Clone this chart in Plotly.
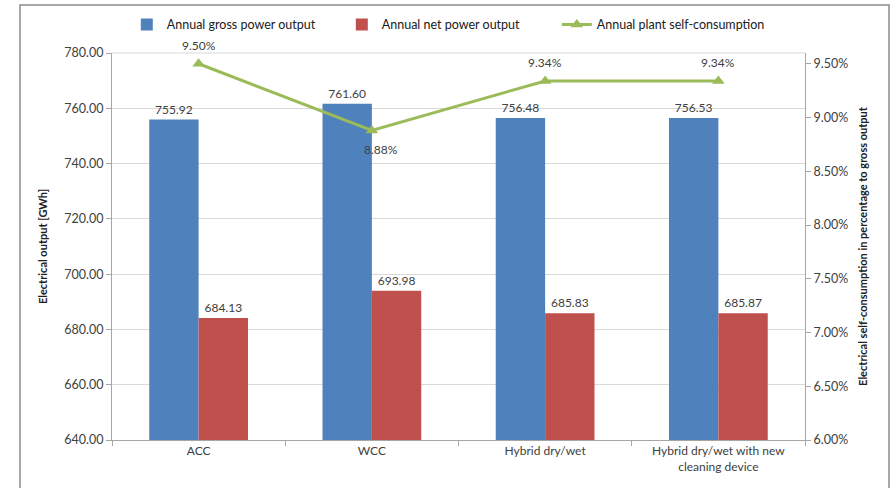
import plotly.graph_objects as go

categories = ["ACC", "WCC", "Hybrid dry/wet", "Hybrid dry/wet with new<br>cleaning device"]
gross_output = [755.92, 761.60, 756.48, 756.53]
net_output = [684.13, 693.98, 685.83, 685.87]
self_consumption = [9.50, 8.88, 9.34, 9.34]
left_ticks = [640, 660, 680, 700, 720, 740, 760, 780]
right_ticks = [6.0, 6.5, 7.0, 7.5, 8.0, 8.5, 9.0, 9.5]

FONT = "Lato, Open Sans, sans-serif"
TXT = "#404040"

fig = go.Figure()
fig.add_trace(go.Bar(
    x=categories, y=gross_output, name="Annual gross power output",
    marker=dict(color="#4F81BD", line=dict(width=0)),
    text=[f"{v:.2f}" for v in gross_output], textposition="outside",
    textfont=dict(size=12, color=TXT), cliponaxis=False,
))
fig.add_trace(go.Bar(
    x=categories, y=net_output, name="Annual net power output",
    marker=dict(color="#C0504D", line=dict(width=0)),
    text=[f"{v:.2f}" for v in net_output], textposition="outside",
    textfont=dict(size=12, color=TXT), cliponaxis=False,
))
fig.add_trace(go.Scatter(
    x=categories, y=self_consumption, name="Annual plant self-consumption",
    yaxis="y2", mode="lines+markers",
    line=dict(color="#9BBB59", width=3),
    marker=dict(symbol="triangle-up", size=11, color="#9BBB59"),
    cliponaxis=False,
))

# percentage labels next to the line points
label_shift = [(0, 18), (9, -19), (0, 18), (0, 18)]
for cat, val, (dx, dy) in zip(categories, self_consumption, label_shift):
    fig.add_annotation(x=cat, y=val, xref="x", yref="y2", text=f"{val:.2f}%",
                       showarrow=False, xshift=dx, yshift=dy,
                       font=dict(size=12, color=TXT))

fig.update_layout(
    width=893, height=488,
    margin=dict(l=112, r=88, t=53, b=48, autoexpand=False),
    paper_bgcolor="white", plot_bgcolor="white",
    font=dict(family=FONT, size=12, color=TXT),
    barmode="group", bargap=0.43, bargroupgap=0,
    showlegend=True,
    legend=dict(orientation="h", xref="container", yref="container",
                x=0.142, y=0.949, xanchor="left", yanchor="middle",
                bgcolor="rgba(0,0,0,0)",
                font=dict(size=12.5, color="#202020"), itemwidth=30,
                entrywidth=170, entrywidthmode="pixels",
                traceorder="normal"),
    xaxis=dict(
        type="category", showgrid=False, showline=True, linecolor="#A6A6A6",
        linewidth=1, ticks="outside", tickson="boundaries", ticklen=5,
        tickcolor="#A6A6A6", tickfont=dict(size=12, color=TXT),
        range=[-0.5, 3.5],
    ),
    yaxis=dict(
        range=[640, 780], tickvals=left_ticks,
        ticktext=[f"{v:.2f}" for v in left_ticks],
        showgrid=True, gridcolor="#D9D9D9", gridwidth=1,
        showline=True, linecolor="#A6A6A6", linewidth=1,
        ticks="outside", ticklen=5, tickcolor="#A6A6A6",
        tickfont=dict(size=12.5, color=TXT), zeroline=False,
        title=dict(text="<b>Electrical output [GWh]</b>", font=dict(size=11, color="#202020"), standoff=14),
    ),
    yaxis2=dict(
        overlaying="y", side="right", range=[6.0, 9.6],
        tickvals=right_ticks, ticktext=[f"{v:.2f}%" for v in right_ticks],
        showgrid=False, showline=True, linecolor="#A6A6A6", linewidth=1,
        ticks="outside", ticklen=5, tickcolor="#A6A6A6",
        tickfont=dict(size=12.5, color=TXT), zeroline=False,
        title=dict(text="<b>Electrical self-consumption in percentage to gross output</b>",
                   font=dict(size=11, color="#202020"), standoff=12),
    ),
)

# chart frame
fig.add_shape(type="rect", xref="paper", yref="paper",
              x0=(20 - 112) / 693, x1=(889 - 112) / 693,
              y0=-0.2, y1=(440 - 5) / 387,
              line=dict(color="#8C8C8C", width=1.5), fillcolor="rgba(0,0,0,0)", layer="below")
# top border of plot area
fig.add_shape(type="line", xref="paper", yref="paper", x0=0, x1=1, y0=1, y1=1,
              line=dict(color="#D9D9D9", width=1))

fig.write_html("out.html")
